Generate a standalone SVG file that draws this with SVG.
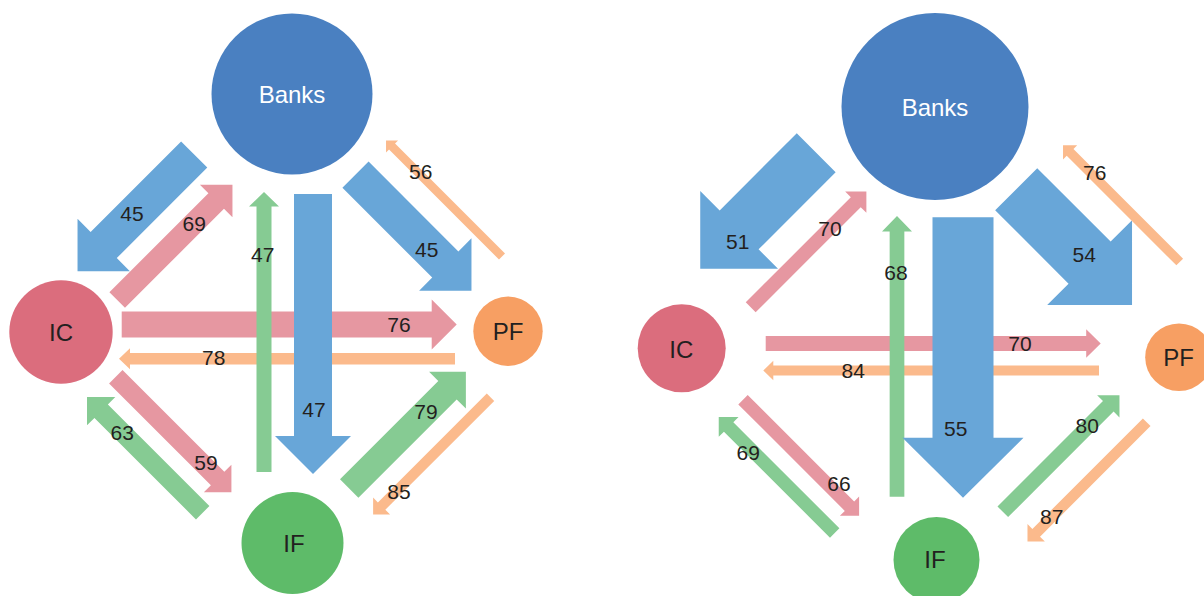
<svg xmlns="http://www.w3.org/2000/svg" width="1204" height="596" viewBox="0 0 1204 596">
<style>
.bg{fill:#ffffff}
.ab{fill:#68A6D8}
.ap{fill:#E697A1}
.ao{fill:#FBBA8C}
.ag{fill:#86CB93}
.nb{fill:#4A80C1}
.nic{fill:#DB6D7D}
.npf{fill:#F79F63}
.nif{fill:#5EBB69}
.lbl{font-family:"Liberation Sans",Arial,Helvetica,sans-serif;font-size:21px;fill:#231F20;text-anchor:middle}
.nl{font-family:"Liberation Sans",Arial,Helvetica,sans-serif;font-size:24px;fill:#231F20;text-anchor:middle}
.nlw{fill:#ffffff}
</style>
<rect class="bg" x="0" y="0" width="1204" height="596"/>

<!-- LEFT DIAGRAM -->
<g id="connectors-left">
  <path id="l-ic-pf" class="ap" d="M0,-13H310V-25L335,0L310,25V13H0Z" transform="translate(121.7,324.5)"/>
  <path id="l-pf-ic" class="ao" d="M0,-5.75H325V-10.5L336,0L325,10.5V5.75H0Z" transform="translate(455,358.8) rotate(180)"/>
  <path id="l-banks-ic" class="ab" d="M0,-18.5H128V-37L165,0L128,37V18.5H0Z" transform="translate(194.2,154.5) rotate(135)"/>
  <path id="l-banks-pf" class="ab" d="M0,-18.5H127V-37L164,0L127,37V18.5H0Z" transform="translate(355.5,174.7) rotate(45)"/>
  <path id="l-ic-banks" class="ap" d="M0,-11H140V-23L163,0L140,23V11H0Z" transform="translate(117.2,300) rotate(-45)"/>
  <path id="l-pf-banks" class="ao" d="M0,-4.25H155.5V-8.5L164,0L155.5,8.5V4.25H0Z" transform="translate(502,256.5) rotate(-135)"/>
  <path id="l-ic-if" class="ap" d="M0,-9.5H144V-19.5L163.5,0L144,19.5V9.5H0Z" transform="translate(115.8,376.7) rotate(45)"/>
  <path id="l-if-ic" class="ag" d="M0,-9.5H143.6V-20L163.6,0L143.6,20V9.5H0Z" transform="translate(202.7,512.7) rotate(-135)"/>
  <path id="l-if-pf" class="ag" d="M0,-13H139V-26L165,0L139,26V13H0Z" transform="translate(349.2,488.5) rotate(-45)"/>
  <path id="l-pf-if" class="ao" d="M0,-5.25H154V-12L166,0L154,12V5.25H0Z" transform="translate(490.5,397.2) rotate(135)"/>
  <path id="l-if-banks" class="ag" d="M0,-7.5H265.5V-15L280,0L265.5,15V7.5H0Z" transform="translate(264,472) rotate(-90)"/>
  <path id="l-banks-if" class="ab" d="M0,-19H242V-38L280,0L242,38V19H0Z" transform="translate(313,194) rotate(90)"/>
  <g id="labels-left">
    <text class="lbl" x="132" y="220.7">45</text>
    <text class="lbl" x="194.3" y="230.7">69</text>
    <text class="lbl" x="262.7" y="262.3">47</text>
    <text class="lbl" x="420.7" y="179.3">56</text>
    <text class="lbl" x="426.7" y="257.3">45</text>
    <text class="lbl" x="399" y="332.3">76</text>
    <text class="lbl" x="213.7" y="365.3">78</text>
    <text class="lbl" x="314" y="417">47</text>
    <text class="lbl" x="426" y="418.7">79</text>
    <text class="lbl" x="122.3" y="440.3">63</text>
    <text class="lbl" x="206" y="470.3">59</text>
    <text class="lbl" x="399" y="499.3">85</text>
  </g>
</g>
<g id="node-banks-left">
  <circle class="nb" cx="292" cy="94" r="80.5"/>
  <text class="nl nlw" x="292" y="103">Banks</text>
</g>
<g id="node-ic-left">
  <circle class="nic" cx="61" cy="332" r="51.7"/>
  <text class="nl" x="61" y="340.5">IC</text>
</g>
<g id="node-pf-left">
  <circle class="npf" cx="508" cy="331.2" r="34.7"/>
  <text class="nl" x="508" y="340">PF</text>
</g>
<g id="node-if-left">
  <circle class="nif" cx="292.5" cy="543" r="51"/>
  <text class="nl" x="294" y="551.7">IF</text>
</g>

<!-- RIGHT DIAGRAM -->
<g id="connectors-right">
  <path id="r-ic-pf" class="ap" d="M0,-7.5H320.5V-14.2L335,0L320.5,14.2V7.5H0Z" transform="translate(765.7,343.5)"/>
  <path id="r-pf-ic" class="ao" d="M0,-5H325.7V-9.7L335.7,0L325.7,9.7V5H0Z" transform="translate(1099,370.5) rotate(180)"/>
  <path id="r-banks-ic" class="ab" d="M0,-27.5H109V-55L164,0L109,55V27.5H0Z" transform="translate(816.2,152.8) rotate(135)"/>
  <path id="r-banks-pf" class="ab" d="M0,-29.75H103.8V-60L163.8,0L103.8,60V29.75H0Z" transform="translate(1016.2,189.2) rotate(45)"/>
  <path id="r-ic-banks" class="ap" d="M0,-7H148.6V-15L163.6,0L148.6,15V7H0Z" transform="translate(750.7,307.3) rotate(-45)"/>
  <path id="r-pf-banks" class="ao" d="M0,-4.75H155V-10L165,0L155,10V4.75H0Z" transform="translate(1179.7,262) rotate(-135)"/>
  <path id="r-ic-if" class="ap" d="M0,-6.65H150.6V-13.6L164.2,0L150.6,13.6V6.65H0Z" transform="translate(743,399.7) rotate(45)"/>
  <path id="r-if-ic" class="ag" d="M0,-6.65H150V-14L164,0L150,14V6.65H0Z" transform="translate(834.7,533) rotate(-135)"/>
  <path id="r-if-pf" class="ag" d="M0,-7.5H149.2V-15.8L165,0L149.2,15.8V7.5H0Z" transform="translate(1002.8,511.8) rotate(-45)"/>
  <path id="r-pf-if" class="ao" d="M0,-5.4H156.3V-12.3L168.6,0L156.3,12.3V5.4H0Z" transform="translate(1146.7,422.3) rotate(135)"/>
  <path id="r-if-banks" class="ag" d="M0,-7.35H265.2V-15L280.7,0L265.2,15V7.35H0Z" transform="translate(897,496.7) rotate(-90)"/>
  <path id="r-banks-if" class="ab" d="M0,-30.5H220.4V-60.5L280.4,0L220.4,60.5V30.5H0Z" transform="translate(963,217.3) rotate(90)"/>
  <g id="labels-right">
    <text class="lbl" x="737.7" y="249">51</text>
    <text class="lbl" x="830" y="236.3">70</text>
    <text class="lbl" x="896" y="280">68</text>
    <text class="lbl" x="1094.7" y="180">76</text>
    <text class="lbl" x="1084.3" y="262.3">54</text>
    <text class="lbl" x="1020" y="351">70</text>
    <text class="lbl" x="853.3" y="378.3">84</text>
    <text class="lbl" x="955.7" y="436">55</text>
    <text class="lbl" x="1087.3" y="433.3">80</text>
    <text class="lbl" x="748.3" y="459.7">69</text>
    <text class="lbl" x="839" y="491">66</text>
    <text class="lbl" x="1051.7" y="524">87</text>
  </g>
</g>
<g id="node-banks-right">
  <circle class="nb" cx="935" cy="106.5" r="93.5"/>
  <text class="nl nlw" x="935" y="116">Banks</text>
</g>
<g id="node-ic-right">
  <circle class="nic" cx="681.7" cy="348.3" r="44"/>
  <text class="nl" x="681.3" y="357.7">IC</text>
</g>
<g id="node-pf-right">
  <circle class="npf" cx="1179" cy="357.2" r="33.8"/>
  <text class="nl" x="1178.7" y="366">PF</text>
</g>
<g id="node-if-right">
  <circle class="nif" cx="936.5" cy="560" r="43"/>
  <text class="nl" x="935" y="567.7">IF</text>
</g>
</svg>
